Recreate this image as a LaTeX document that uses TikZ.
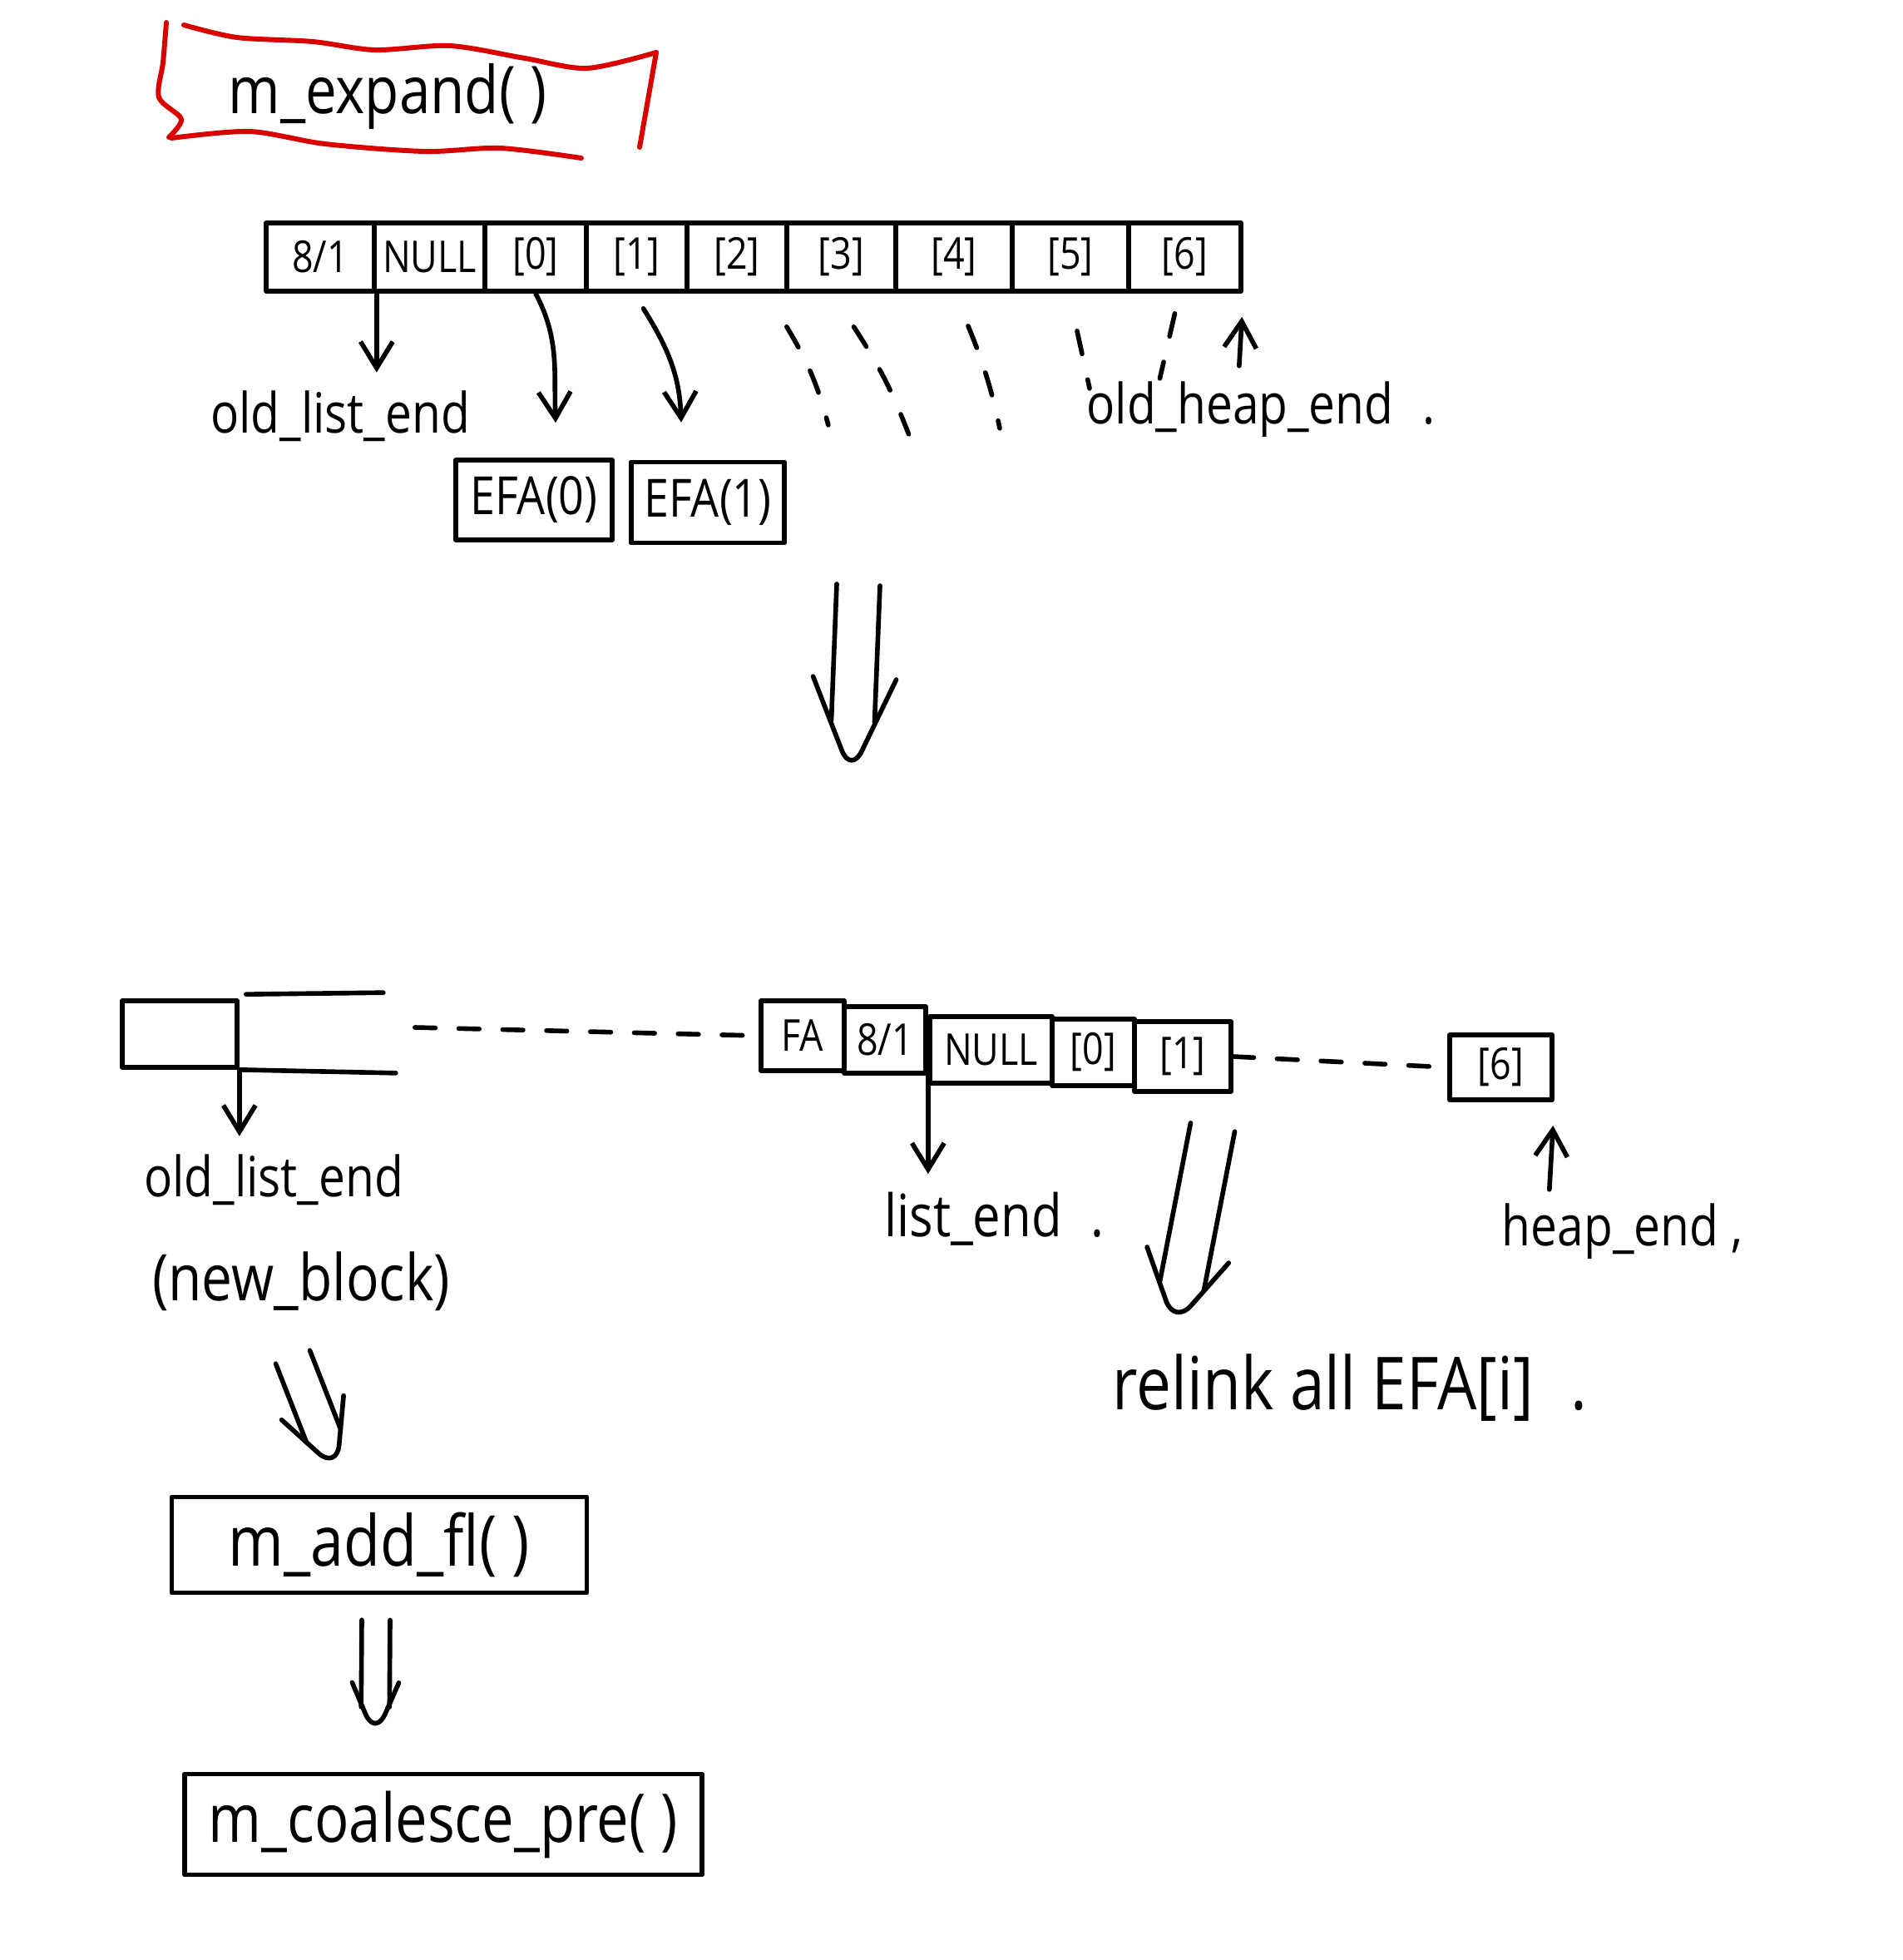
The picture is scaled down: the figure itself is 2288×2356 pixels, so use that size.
\documentclass[tikz,border=0pt]{standalone}
\usepackage{fontspec}
\setmainfont{Open Sans}[FakeStretch=0.85]
\usetikzlibrary{calc,arrows.meta}

\tikzset{
  ink/.style={line width=1.6pt, line cap=round, line join=round},
  cell/.style={draw, ink, rectangle, inner sep=0pt, font=\fontsize{15}{18}\selectfont},
  lab/.style={inner sep=0pt, font=\fontsize{19}{22}\selectfont},
  biglab/.style={inner sep=0pt, font=\fontsize{24}{28}\selectfont},
  fnbox/.style={draw, ink, rectangle, inner sep=0pt},
  tip/.style={ink, -{Straight Barb[length=9pt,width=11pt]}},
  dashit/.style={ink, dash pattern=on 8pt off 9pt},
  redink/.style={draw=red!85!black, line width=1.7pt, line cap=round, line join=round},
}

% hollow "big" arrow: start, tip, half shaft gap, half head width, head length
\newcommand{\hollowarrow}[5]{%
  \coordinate (#1-#2-h) at ($(#2)!#5!(#1)$);
  \coordinate (#1-#2-s) at ($(#1-#2-h)!0.45!(#2)$);
  \draw[ink] ($(#1)!#3!90:(#2)$) -- ($(#1-#2-s)!#3!-90:(#1)$);
  \draw[ink] ($(#1)!#3!-90:(#2)$) -- ($(#1-#2-s)!#3!90:(#1)$);
  \draw[ink, rounded corners=0.3cm] ($(#1-#2-h)!#4!-90:(#1)$) -- (#2) -- ($(#1-#2-h)!#4!90:(#1)$);
}

\begin{document}
\begin{tikzpicture}[x=0.01cm, y=-0.01cm]
\useasboundingbox (0,0) rectangle (2288,2356);
\fill[white] (0,0) rectangle (2288,2356);

% ---------- title ----------
\node[biglab, font=\fontsize{22.5}{27}\selectfont] (title) at (466,116) {m\_expand( )};
\draw[redink] plot[smooth] coordinates {(200,27) (196,75) (191,117) (218,143) (203,165)};
\draw[redink] plot[smooth] coordinates {(221,30) (285,45) (376,50) (451,60) (541,55) (631,70) (706,82) (789,63)};
\draw[redink] (789,63) -- (769,177);
\draw[redink] plot[smooth] coordinates {(206,166) (300,158) (391,173) (511,182) (601,178) (699,190)};

% ---------- heap before expansion ----------
\node[cell, minimum width=1.30cm, minimum height=0.82cm] (c81)  at (385,309)   {8/1};
\node[cell, minimum width=1.33cm, minimum height=0.82cm] (cnul) at (516.5,309) {NULL};
\node[cell, minimum width=1.22cm, minimum height=0.82cm] (c0)   at (644,309)   {[0]};
\node[cell, minimum width=1.21cm, minimum height=0.82cm] (c1)   at (765.5,309) {[1]};
\node[cell, minimum width=1.20cm, minimum height=0.82cm] (c2)   at (886,309)   {[2]};
\node[cell, minimum width=1.31cm, minimum height=0.82cm] (c3)   at (1011.5,309){[3]};
\node[cell, minimum width=1.40cm, minimum height=0.82cm] (c4)   at (1147,309)  {[4]};
\node[cell, minimum width=1.40cm, minimum height=0.82cm] (c5)   at (1287,309)  {[5]};
\node[cell, minimum width=1.35cm, minimum height=0.82cm] (c6)   at (1424.5,309){[6]};

\node[lab] (oldlist) at (409,500) {old\_list\_end};
\node[lab] (oldheap) at (1491,492) {old\_heap\_end\rlap{\hspace{0.35cm}.}};

\node[fnbox, minimum width=1.88cm, minimum height=0.96cm, font=\fontsize{18}{20}\selectfont] (efa0) at (642,601) {EFA(0)};
\node[fnbox, minimum width=1.84cm, minimum height=0.97cm, font=\fontsize{18}{20}\selectfont] (efa1) at (851,604) {EFA(1)};

\draw[tip, shorten >=6pt] (c81.south east) -- (c81.south east |- oldlist.north);
\draw[tip] (c0.south) to[out=-62, in=92] ($(efa0.north)+(26,-42)$);
\draw[tip] ($(c1.south)+(8,18)$) to[out=-58, in=92] ($(efa1.north)+(-32,-45)$);

\draw[dashit] ($(c2.south east)+(-3,40)$) to[bend left=8] ($(c2.south east)+(47,158)$);
\draw[dashit] ($(c3.south)+(15,40)$) to[bend left=6] ($(c3.south)+(81,169)$);
\draw[dashit] ($(c4.south)+(17,39)$) to[bend left=5] ($(c4.south)+(55,162)$);
\draw[dashit] ($(c5.south)+(8,45)$) -- ($(c5.south)+(23,114)$);
\draw[dashit] ($(c6.south)+(-12,24)$) -- ($(c6.south)+(-30,102)$);
\draw[tip, shorten >=8pt] ($(c6.south east)+(-5,87)$) -- (c6.south east);

% ---------- transition ----------
\coordinate (t1) at (1032,703);
\coordinate (t2) at (1023,930);
\hollowarrow{t1}{t2}{0.26cm}{0.50cm}{1.15cm}

% ---------- heap after expansion ----------
\node[fnbox, minimum width=1.38cm, minimum height=0.80cm] (nb) at (216,1243) {};
\draw[ink] ($(nb.north east)+(8,-5)$) -- ++(165,-2);
\draw[ink] (nb.south east) -- ++(188,4);
\node[lab, font=\fontsize{19}{22}\selectfont] (oldlist2) at (329,1418) {old\_list\_end};
\node[biglab, font=\fontsize{22}{26}\selectfont] (newblock) at (362,1540) {(new\_block)};
\draw[tip, shorten >=6pt] (nb.south east) -- (nb.south east |- oldlist2.north);

\node[cell, minimum width=1.00cm, minimum height=0.84cm] (fa)   at (965,1245)   {FA};
\node[cell, minimum width=0.98cm, minimum height=0.80cm] (c81b) at (1064,1250)  {8/1};
\node[cell, minimum width=1.47cm, minimum height=0.80cm] (nulb) at (1191.5,1262){NULL};
\node[cell, minimum width=0.99cm, minimum height=0.80cm] (c0b)  at (1314.5,1265){[0]};
\node[cell, minimum width=1.16cm, minimum height=0.84cm] (c1b)  at (1422,1270)  {[1]};
\node[cell, minimum width=1.23cm, minimum height=0.78cm] (c6b)  at (1804.5,1283){[6]};

\draw[ink, dash pattern=on 7pt off 8pt] ($(nb.east)+(211,-8)$) -- (fa.west);
\draw[ink, dash pattern=on 7pt off 8pt] (c1b.east) -- (c6b.west);

\node[lab, font=\fontsize{20}{24}\selectfont] (listend) at (1170,1465) {list\_end\rlap{\hspace{0.35cm}.}};
\node[lab] (heapend) at (1936,1480) {heap\_end\rlap{\hspace{0.15cm},}};
\draw[tip, shorten >=6pt] (c81b.south east) -- (c81b.south east |- listend.north);
\draw[tip, shorten >=8pt] ($(c6b.south east)+(-6,105)$) -- (c6b.south east);

\coordinate (r1) at (1458,1355);
\coordinate (r2) at (1412,1592);
\hollowarrow{r1}{r2}{0.27cm}{0.50cm}{0.85cm}
\node[biglab, font=\fontsize{25}{29}\selectfont] (relink) at (1591,1668) {relink all EFA[i]\rlap{\hspace{0.45cm}.}};

% ---------- follow-up calls ----------
\node[fnbox, minimum width=4.99cm, minimum height=1.15cm, font=\fontsize{24}{28}\selectfont] (addfl) at (456,1857) {m\_add\_fl( )};
\node[fnbox, minimum width=6.22cm, minimum height=1.21cm, font=\fontsize{23}{27}\selectfont] (coal) at (533,2193) {m\_coalesce\_pre( )};

\coordinate (n1) at ($(newblock.south)+(-10,55)$);
\coordinate (n2) at ($(addfl.north)+(-51,-30)$);
\hollowarrow{n1}{n2}{0.22cm}{0.40cm}{0.80cm}

\coordinate (a1) at ($(addfl.south)+(-4,30)$);
\coordinate (a2) at ($(coal.north)+(-82,-42)$);
\hollowarrow{a1}{a2}{0.17cm}{0.28cm}{0.65cm}

\end{tikzpicture}
\end{document}
